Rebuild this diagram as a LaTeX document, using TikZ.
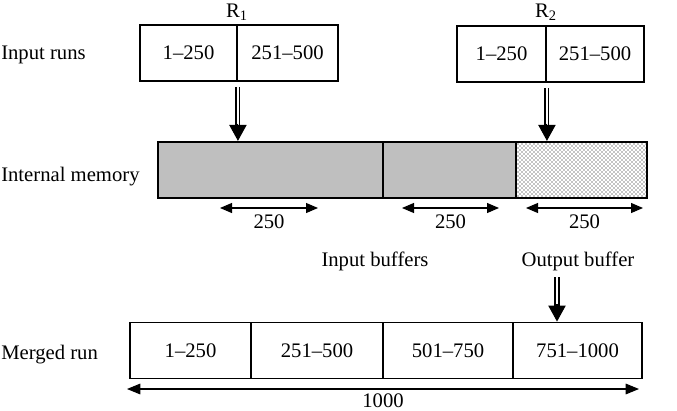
\documentclass[tikz,border=0pt]{standalone}
\usepackage{fontspec}
\setmainfont{Liberation Serif}
\usepackage{tikz}
\usetikzlibrary{positioning,arrows.meta,calc,patterns}

\definecolor{memgray}{gray}{0.75}

\begin{document}
\begin{tikzpicture}[x=0.75pt,y=-0.75pt,
  every node/.style={font=\fontsize{15.5}{18}\selectfont, inner sep=0pt},
  cell/.style={draw, line width=1.4pt, minimum height=42pt},
  memcell/.style={draw, line width=1.7pt, minimum height=42pt},
  dim/.style={{Triangle[length=9pt,width=7.5pt]}-{Triangle[length=9pt,width=7.5pt]}, line width=0.8pt},
  dbl/.style={double, double distance=1.6pt, line width=1.1pt},
  tip/.style={-{Triangle[length=12pt,width=13pt]}, line width=0.8pt}]
  \useasboundingbox (0,0) rectangle (677,410);

  % row labels
  \node[anchor=west] (lin) at (1,55) {Input runs};
  \node[anchor=west] (lmem) at (1,177) {Internal memory};
  \node[anchor=west] (lmrg) at (1,355) {Merged run};

  % input runs
  \node[cell, minimum width=72.75pt] (r1a) at (188.5,53) {1--250};
  \node[cell, minimum width=75.75pt] (r1b) at (287.5,53) {251--500};
  \node[cell, minimum width=66.75pt] (r2a) at (501.5,54) {1--250};
  \node[cell, minimum width=73.5pt] (r2b) at (595,54) {251--500};
  \node (r1) at (237,12) {R\textsubscript{1}};
  \node (r2) at (546,12) {R\textsubscript{2}};

  % internal memory
  \node[memcell, fill=memgray, minimum width=168.75pt] (m1) at (270.5,170) {};
  \node[memcell, fill=memgray, minimum width=99.75pt] (m2) at (449.5,170) {};
  \node[memcell, pattern=crosshatch dots, minimum width=98.25pt] (m3) at (581.5,170) {};

  \draw[dbl, shorten <=4pt, shorten >=11pt] (r1a.south east) -- (r1a.south east |- m1.north);
  \draw[tip] ([yshift=13pt]r1a.south east |- m1.north) -- (r1a.south east |- m1.north);
  \draw[dbl, shorten <=4pt, shorten >=11pt] (r2a.south east) -- (r2a.south east |- m3.north);
  \draw[tip] ([yshift=13pt]r2a.south east |- m3.north) -- (r2a.south east |- m3.north);

  \draw[dim] (220,208) -- node[below=5pt] (s1) {250} (318,208);
  \draw[dim] (402,208) -- node[below=5pt] (s2) {250} (499,208);
  \draw[dim] (526,208) -- node[below=5pt] (s3) {250} (643,208);

  \node (ib) at (375,261) {Input buffers};
  \node (ob) at (578,261) {Output buffer};

  % merged run
  \node[cell, minimum width=90.75pt] (g1) at (190.5,350.5) {1--250};
  \node[cell, minimum width=99pt] (g2) at (317,350.5) {251--500};
  \node[cell, minimum width=97.5pt] (g3) at (448,350.5) {501--750};
  \node[cell, minimum width=96.75pt] (g4) at (577.5,350.5) {751--1000};

  \coordinate (obx) at (557,277);
  \draw[dbl, shorten >=11pt] (obx) -- (obx |- g4.north);
  \draw[tip] ([yshift=13pt]obx |- g4.north) -- (obx |- g4.north);

  \draw[dim, {Triangle[length=10pt,width=8pt]}-{Triangle[length=10pt,width=8pt]}] (127,389) -- node[below=3pt] (tot) {1000} (639,389);
\end{tikzpicture}
\end{document}
